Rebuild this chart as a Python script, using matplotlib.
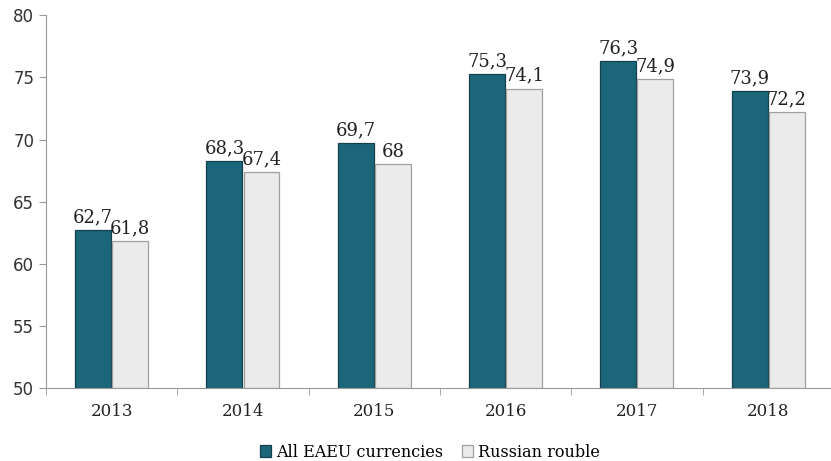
import numpy as np
import matplotlib.pyplot as plt

years = ["2013", "2014", "2015", "2016", "2017", "2018"]
all_eaeu = [62.7, 68.3, 69.7, 75.3, 76.3, 73.9]
rouble = [61.8, 67.4, 68.0, 74.1, 74.9, 72.2]

TEAL = "#1c6679"
TEAL_EDGE = "#12404c"
GREY = "#ebebeb"
GREY_EDGE = "#a0a0a0"

fig = plt.figure(figsize=(8.31, 4.61), dpi=100)
ax = fig.add_axes([0.0554, 0.158, 0.948, 0.809])

x = np.arange(len(years))
w = 0.274
gap = 0.004

b1 = ax.bar(x - w / 2 - gap, [v - 50 for v in all_eaeu], w, bottom=50, color=TEAL,
            edgecolor=TEAL_EDGE, linewidth=0.9, label="All EAEU currencies")
b2 = ax.bar(x + w / 2 + gap, [v - 50 for v in rouble], w, bottom=50, color=GREY,
            edgecolor=GREY_EDGE, linewidth=0.9, label="Russian rouble")

def fmt(v):
    s = f"{v:.1f}".replace(".", ",")
    return s[:-2] if s.endswith(",0") else s

for xi, v in zip(x, all_eaeu):
    ax.text(xi - w / 2 - gap, v + 0.3, fmt(v), ha="center", va="bottom",
            fontsize=13, family="DejaVu Serif", color="#222222")
for xi, v in zip(x, rouble):
    ax.text(xi + w / 2 + gap, v + 0.3, fmt(v), ha="center", va="bottom",
            fontsize=13, family="DejaVu Serif", color="#222222")

ax.set_ylim(50, 80)
ax.set_xlim(-0.5, len(years) - 0.5)
ax.set_yticks(range(50, 81, 5))
ax.set_xticks(x)
ax.set_xticklabels(years, family="DejaVu Serif", fontsize=12)
ax.set_xticks(np.arange(-0.5, len(years), 1), minor=True)
ax.tick_params(axis="x", which="major", length=0, pad=11)
ax.tick_params(axis="x", which="minor", length=5, color="#999999")
ax.tick_params(axis="y", length=5, color="#999999", labelsize=12, colors="#333333")
ax.tick_params(axis="x", colors="#222222")

for s in ("top", "right"):
    ax.spines[s].set_visible(False)
for s in ("left", "bottom"):
    ax.spines[s].set_color("#999999")

leg = ax.legend(handles=[b1, b2], loc="upper center", bbox_to_anchor=(0.487, -0.11),
                ncol=2, frameon=False, handlelength=0.7, handleheight=0.7,
                handletextpad=0.3, columnspacing=1.2,
                prop={"family": "DejaVu Serif", "size": 11.5})

fig.savefig("out.png", dpi=100)
